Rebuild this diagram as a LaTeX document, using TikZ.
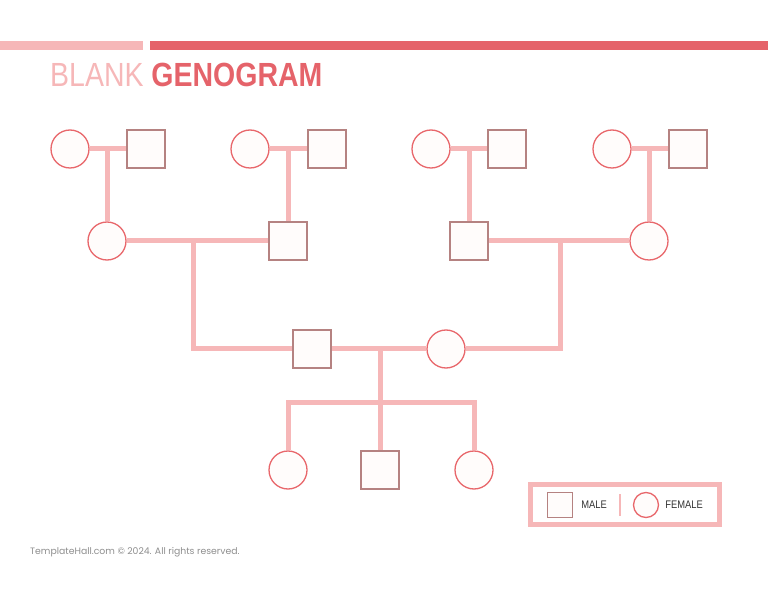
\documentclass[tikz,border=0pt]{standalone}
\usepackage{fontspec}
\setmainfont{Liberation Sans}
\newfontfamily\titlefont[FakeStretch=0.85]{Liberation Sans}
\newfontfamily\footfont{Poppins}
\usetikzlibrary{positioning,calc,backgrounds}
\definecolor{genoLight}{HTML}{F6B7B8}
\definecolor{genoDark}{HTML}{E5636A}
\definecolor{genoMale}{HTML}{B58281}
\definecolor{genoFemale}{HTML}{E8676B}
\definecolor{genoFill}{HTML}{FFFCFB}
\definecolor{genoGrey}{HTML}{8E8E8E}
\tikzset{
  male/.style={
    draw=genoMale, line width=1.3pt, fill=genoFill,
    minimum size=#1, inner sep=0pt},
  male/.default=38pt,
  female/.style={
    circle, draw=genoFemale, line width=1.3pt, fill=genoFill,
    minimum size=#1, inner sep=0pt},
  female/.default=38pt,
  link/.style={draw=genoLight, line width=5pt},
  keybox/.style={draw=genoLight, line width=4.5pt, inner sep=0pt},
  keytext/.style={font=\titlefont\fontsize{11}{12}\selectfont, text=black!80, anchor=west, inner sep=0pt},
}

\begin{document}
\begin{tikzpicture}[x=1pt,y=-1pt]
\useasboundingbox (0,0) rectangle (768,593);

% ---- header
\fill[genoLight] (0,41) rectangle (143,50);
\fill[genoDark] (150,41) rectangle (768,50);
\node[anchor=base west, inner sep=0pt, font=\titlefont\fontsize{33.5}{36}\selectfont] (TITLE)
  at (50,87) {\textcolor{genoLight}{BLANK} \textcolor{genoDark}{\bfseries GENOGRAM}};

% ---- grandparents
\node[female] (GM1) at (70,149)  {};
\node[male]   (GF1) at (146,149) {};
\node[female] (GM2) at (250,149) {};
\node[male]   (GF2) at (327,149) {};
\node[female] (GM3) at (431,149) {};
\node[male]   (GF3) at (507,149) {};
\node[female] (GM4) at (612,149) {};
\node[male]   (GF4) at (688,149) {};

% ---- parents' generation
\node[female] (P1) at (107,241) {};
\node[male]   (P2) at (288,241) {};
\node[male]   (P3) at (469,241) {};
\node[female] (P4) at (649,241) {};

% ---- parents
\node[male]   (DAD) at (312,349) {};
\node[female] (MOM) at (446,349) {};

% ---- children
\node[female] (K1) at (288,470) {};
\node[male]   (K2) at (380,470) {};
\node[female] (K3) at (474,470) {};
\coordinate (SIB) at (380,402);

% ---- connectors
\begin{scope}[on background layer]
  \foreach \i in {1,...,4} {
    \draw[link] (GM\i) -- (GF\i);
    \draw[link] (P\i |- GF\i) -- (P\i);
  }
  \draw[link] (P1) -- (P2);
  \draw[link] ($(P1)!0.48!(P2)$) |- (DAD);
  \draw[link] (P3) -- (P4);
  \draw[link] ($(P3)!0.51!(P4)$) |- (MOM);
  \draw[link] (DAD) -- (MOM);
  \draw[link] (SIB |- DAD) -- (K2);
  \draw[link] (K1) |- (SIB) -| (K3);
\end{scope}

% ---- legend
\node[keybox, minimum width=189pt, minimum height=40pt] (KEY) at (625,504.5) {};
\node[male=25pt] (KM) at (560,505) {};
\node[keytext, right=8pt of KM] (KMT) {MALE};
\node[female=25pt] (KF) at (646,505) {};
\node[keytext, right=6pt of KF] (KFT) {FEMALE};
\draw[genoLight, line width=1.2pt] (620,494) -- (620,516);

% ---- footer
\node[anchor=west, inner sep=0pt, text=genoGrey, font=\footfont\fontsize{9.3}{11}\selectfont] (FOOT)
  at (30,552) {TemplateHall.com © 2024. All rights reserved.};

\end{tikzpicture}
\end{document}
